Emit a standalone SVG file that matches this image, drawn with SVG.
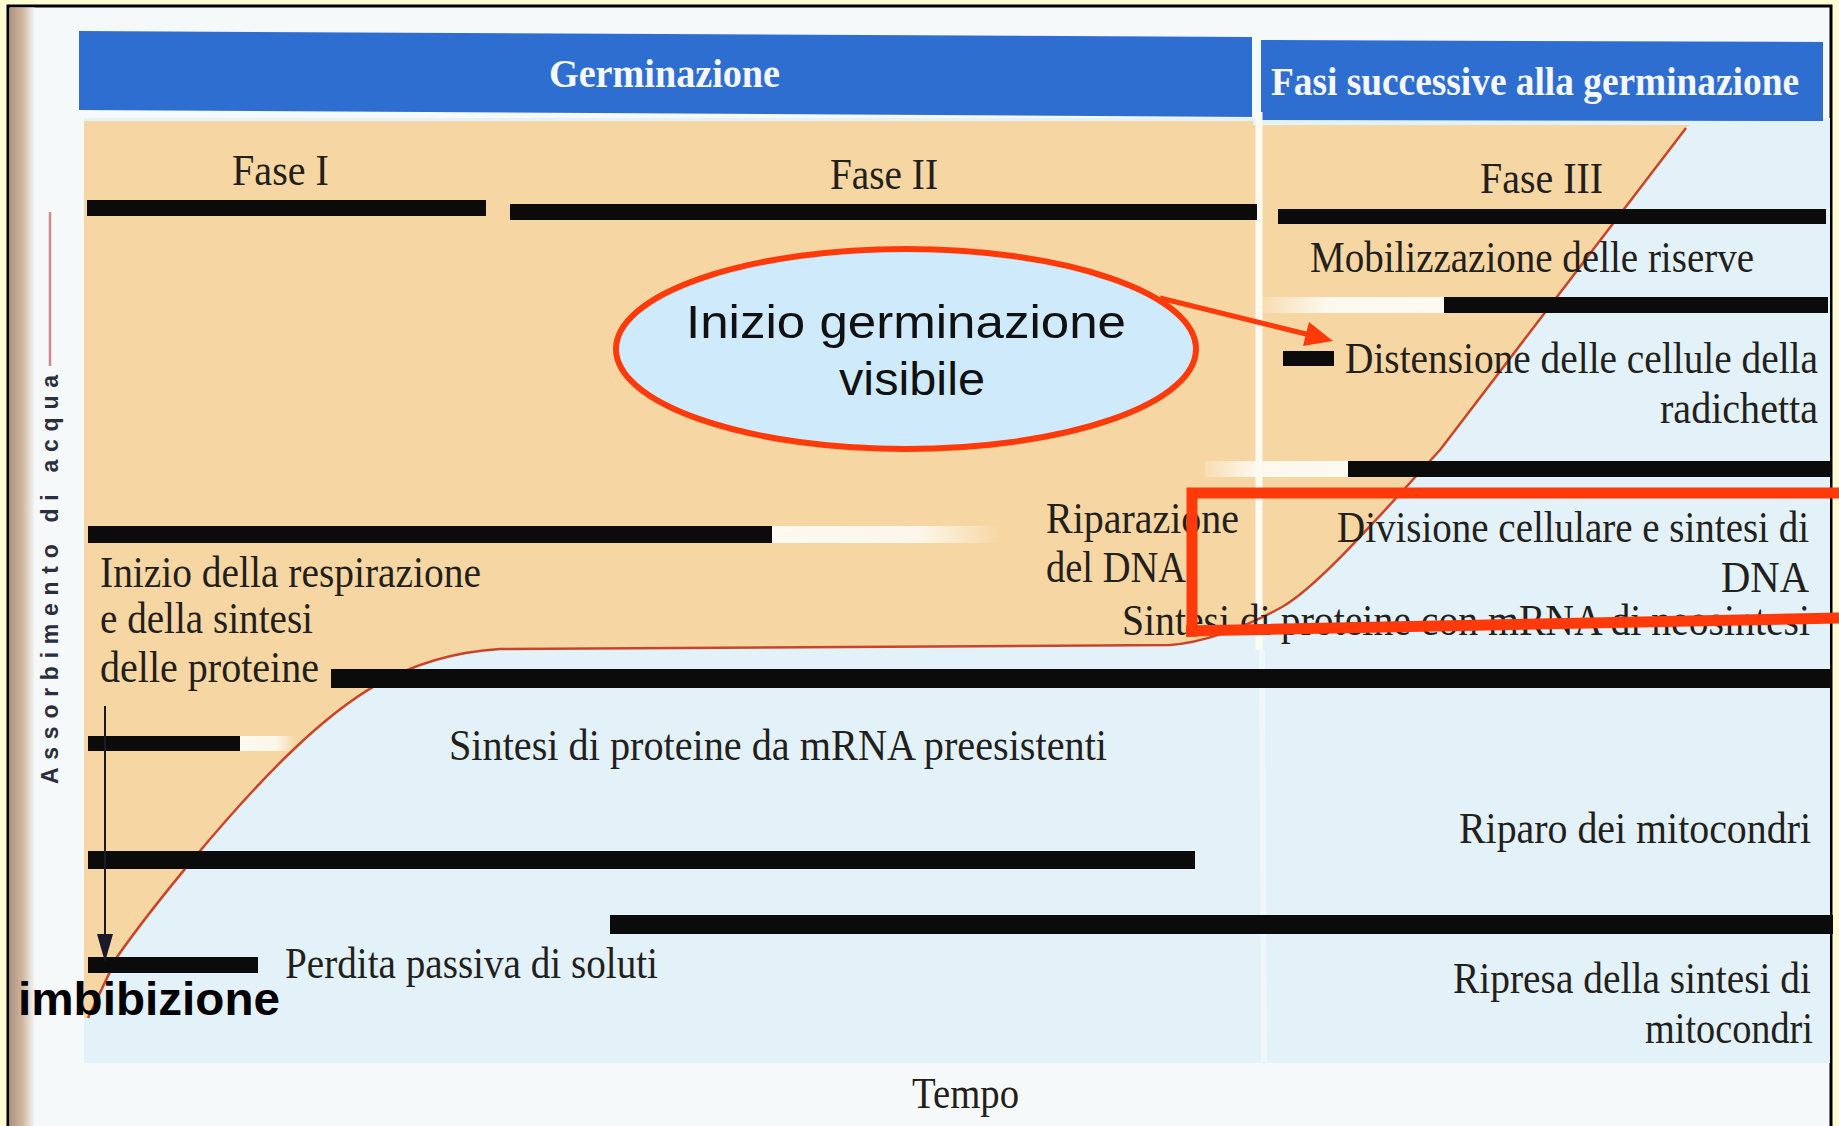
<svg xmlns="http://www.w3.org/2000/svg" width="1839" height="1126" viewBox="0 0 1839 1126">
<defs>
<style>
.lbl{font-family:"Liberation Serif","Times New Roman",serif;font-size:44px;fill:#231f1c}
.hdr{font-family:"Liberation Serif","Times New Roman",serif;font-size:40px;font-weight:bold;fill:#f6f7ff}
.bar{fill:#0b0b0b}
.note{font-family:"Liberation Sans",Arial,sans-serif;font-size:46px;fill:#111}
</style>
<linearGradient id="spine" x1="0" y1="0" x2="1" y2="0">
<stop offset="0" stop-color="#ad9481"/>
<stop offset="0.5" stop-color="#cdb49b"/>
<stop offset="1" stop-color="#f4f6f8"/>
</linearGradient>
<linearGradient id="fadeIn" x1="0" y1="0" x2="1" y2="0">
<stop offset="0" stop-color="#fdfaf2" stop-opacity="0.2"/>
<stop offset="0.35" stop-color="#fdfaf2" stop-opacity="0.95"/>
<stop offset="1" stop-color="#fdfaf2" stop-opacity="1"/>
</linearGradient>
<linearGradient id="fadeOut" x1="0" y1="0" x2="1" y2="0">
<stop offset="0" stop-color="#fdfaf2" stop-opacity="1"/>
<stop offset="0.65" stop-color="#fdfaf2" stop-opacity="0.9"/>
<stop offset="1" stop-color="#fdfaf2" stop-opacity="0"/>
</linearGradient>
</defs>

<!-- page background -->
<rect x="0" y="0" width="1839" height="1126" fill="#fffbd2"/>
<rect x="8" y="6" width="1823" height="1130" fill="#f6f9fa" stroke="#000" stroke-width="3"/>
<rect x="9.5" y="7.5" width="25" height="1120" fill="url(#spine)"/>

<!-- colored regions -->
<rect x="84" y="118" width="1746" height="945" fill="#e3f1f8"/>
<path d="M84 121 L1253 121 L1253 125 L1690 125 L1686 128 L1440 450 C1380 515 1320 585 1282 607 C1240 630 1200 643 1170 645 L500 649 C400 655 340 705 293 750 C230 810 150 910 117 957 L88 1018 L84 1018 Z" fill="#f6d6a2"/>

<!-- headers -->
<g id="header-germinazione">
<polygon points="79,31 1252,37 1252,117 79,110" fill="#2e6ed0"/>
<text class="hdr" x="549" y="87" textLength="231" lengthAdjust="spacingAndGlyphs">Germinazione</text>
</g>
<g id="header-fasi-successive">
<polygon points="1261,40 1823,42 1823,121 1261,120" fill="#2e6ed0"/>
<text class="hdr" x="1271" y="95" textLength="528" lengthAdjust="spacingAndGlyphs">Fasi successive alla germinazione</text>
</g>

<!-- separators and fades -->
<line x1="1259" y1="112" x2="1259" y2="650" stroke="#fdfaf2" stroke-width="7"/>
<line x1="1262" y1="650" x2="1264" y2="1062" stroke="#eef7fb" stroke-width="6"/>
<rect x="1263" y="297" width="181" height="16" fill="url(#fadeIn)"/>
<rect x="1205" y="461" width="143" height="16" fill="url(#fadeIn)"/>
<rect x="772" y="526" width="230" height="17" fill="url(#fadeOut)"/>
<rect x="240" y="736" width="56" height="15" fill="url(#fadeOut)"/>

<!-- water absorption curve -->
<path id="curve" d="M88 1018 L117 957 C150 910 230 810 293 750 C340 705 400 655 500 649 L1170 645 C1200 643 1240 630 1282 607 C1320 585 1380 515 1440 450 L1686 128" fill="none" stroke="#c9452a" stroke-width="2.5"/>

<!-- axis label -->
<g id="axis-y">
<line x1="50" y1="212" x2="50" y2="366" stroke="#d08a8a" stroke-width="2.5"/>
<text x="0" y="0" transform="translate(58,784) rotate(-90)" font-family="Liberation Sans, Arial, sans-serif" font-size="23" font-weight="bold" fill="#2b2f3d" textLength="409" lengthAdjust="spacing">Assorbimento di acqua</text>
</g>
<g id="axis-x">
<text class="lbl" x="912" y="1108" textLength="107" lengthAdjust="spacingAndGlyphs">Tempo</text>
</g>

<!-- phases -->
<g id="fase-1"><rect class="bar" x="87" y="200" width="399" height="16"/><text class="lbl" x="232" y="185" textLength="97" lengthAdjust="spacingAndGlyphs">Fase I</text></g>
<g id="fase-2"><rect class="bar" x="510" y="204" width="747" height="16"/><text class="lbl" x="830" y="189" textLength="108" lengthAdjust="spacingAndGlyphs">Fase II</text></g>
<g id="fase-3"><rect class="bar" x="1278" y="209" width="548" height="15"/><text class="lbl" x="1480" y="193" textLength="123" lengthAdjust="spacingAndGlyphs">Fase III</text></g>

<!-- processes -->
<g id="mobilizzazione">
<text class="lbl" x="1310" y="272" textLength="444" lengthAdjust="spacingAndGlyphs">Mobilizzazione delle riserve</text>
<rect class="bar" x="1444" y="297" width="384" height="16"/>
</g>
<g id="distensione">
<rect class="bar" x="1283" y="351" width="51" height="15"/>
<text class="lbl" x="1345" y="373" textLength="473" lengthAdjust="spacingAndGlyphs">Distensione delle cellule della</text>
<text class="lbl" x="1660" y="423" textLength="158" lengthAdjust="spacingAndGlyphs">radichetta</text>
</g>
<g id="divisione">
<rect class="bar" x="1348" y="461" width="483" height="16"/>
<text class="lbl" x="1337" y="542" textLength="472" lengthAdjust="spacingAndGlyphs">Divisione cellulare e sintesi di</text>
<text class="lbl" x="1721" y="592" textLength="88" lengthAdjust="spacingAndGlyphs">DNA</text>
</g>
<g id="riparazione-dna">
<rect class="bar" x="88" y="526" width="684" height="17"/>
<text class="lbl" x="1046" y="533" textLength="193" lengthAdjust="spacingAndGlyphs">Riparazione</text>
<text class="lbl" x="1046" y="582" textLength="140" lengthAdjust="spacingAndGlyphs">del DNA</text>
</g>
<g id="respirazione">
<text class="lbl" x="100" y="587" textLength="381" lengthAdjust="spacingAndGlyphs">Inizio della respirazione</text>
<text class="lbl" x="100" y="633" textLength="213" lengthAdjust="spacingAndGlyphs">e della sintesi</text>
<text class="lbl" x="100" y="682" textLength="219" lengthAdjust="spacingAndGlyphs">delle proteine</text>
</g>
<g id="sintesi-neosintesi">
<text class="lbl" x="1122" y="635" textLength="688" lengthAdjust="spacingAndGlyphs">Sintesi di proteine con mRNA di neosintesi</text>
<rect class="bar" x="331" y="669" width="1500" height="19"/>
</g>
<g id="sintesi-preesistenti">
<rect class="bar" x="88" y="736" width="152" height="15"/>
<text class="lbl" x="449" y="760" textLength="658" lengthAdjust="spacingAndGlyphs">Sintesi di proteine da mRNA preesistenti</text>
</g>
<g id="riparo-mitocondri">
<text class="lbl" x="1459" y="843" textLength="352" lengthAdjust="spacingAndGlyphs">Riparo dei mitocondri</text>
<rect class="bar" x="88" y="851" width="1107" height="18"/>
</g>
<g id="ripresa-mitocondri">
<rect class="bar" x="610" y="915" width="1223" height="19"/>
<text class="lbl" x="1453" y="993" textLength="358" lengthAdjust="spacingAndGlyphs">Ripresa della sintesi di</text>
<text class="lbl" x="1645" y="1043" textLength="168" lengthAdjust="spacingAndGlyphs">mitocondri</text>
</g>
<g id="perdita-soluti">
<rect class="bar" x="88" y="957" width="170" height="16"/>
<text class="lbl" x="285" y="978" textLength="373" lengthAdjust="spacingAndGlyphs">Perdita passiva di soluti</text>
</g>

<!-- annotations -->
<g id="inizio-germinazione-visibile">
<ellipse cx="906" cy="349" rx="290" ry="100" fill="#cfeafa" stroke="#ff3a0a" stroke-width="6"/>
<text class="note" x="686" y="338" textLength="440" lengthAdjust="spacingAndGlyphs">Inizio germinazione</text>
<text class="note" x="839" y="395" textLength="146" lengthAdjust="spacingAndGlyphs">visibile</text>
</g>
<g id="imbibizione">
<text x="18" y="1015" font-family="Liberation Sans, Arial, sans-serif" font-size="47" font-weight="bold" fill="#000" textLength="262" lengthAdjust="spacingAndGlyphs">imbibizione</text>
</g>
<g id="highlight-box">
<path d="M1839 493 L1192 493 L1192 637 M1186 631 L1839 618" fill="none" stroke="#ff3a0a" stroke-width="11"/>
</g>

<g id="connectors">
<line x1="105" y1="706" x2="105" y2="940" stroke="#1a1a2a" stroke-width="2"/>
<polygon points="97,934 113,934 105,962" fill="#1a1a2a"/>
<line x1="1160" y1="298" x2="1310" y2="335" stroke="#ff3a0a" stroke-width="5"/>
<polygon points="1333,341 1309,322 1303,346" fill="#ff3a0a"/>
</g>
</svg>
